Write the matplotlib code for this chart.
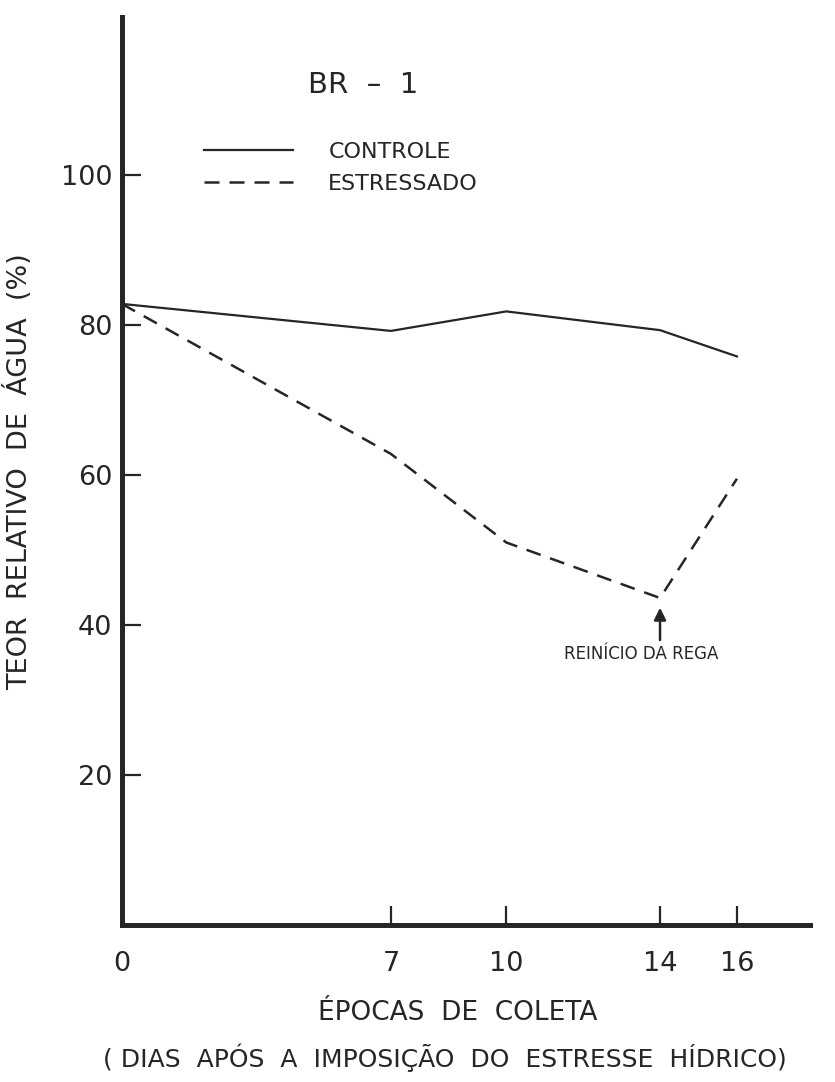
import matplotlib.pyplot as plt

# dias apos a imposicao do estresse hidrico
dias = [0, 7, 10, 14, 16]
controle = [82.8, 79.2, 81.8, 79.3, 75.8]
estressado = [82.8, 62.8, 51.0, 43.6, 59.5]
yticks = [20, 40, 60, 80, 100]
xticks = [0, 7, 10, 14, 16]

ink = '#262626'

fig = plt.figure(figsize=(8.35, 10.82), dpi=100)
ax = fig.add_axes([0.146, 0.145, 0.824, 0.839])

ax.plot(dias, controle, color=ink, lw=1.6, label='CONTROLE')
ax.plot(dias, estressado, color=ink, lw=1.8, linestyle=(0, (6, 4)), label='ESTRESSADO')

ax.set_xlim(0, 17.9)
ax.set_ylim(0, 121)
ax.set_xticks(xticks)
ax.set_yticks(yticks)
ax.tick_params(axis='both', direction='in', length=14, width=1.6, colors=ink,
               labelsize=19.5)
ax.tick_params(axis='y', pad=7)
ax.tick_params(axis='x', pad=19)

for side in ['top', 'right']:
    ax.spines[side].set_visible(False)
for side in ['left', 'bottom']:
    ax.spines[side].set_linewidth(3.6)
    ax.spines[side].set_color(ink)

ax.set_ylabel('TEOR  RELATIVO  DE  ÁGUA  (%)', fontsize=19.5, color=ink, labelpad=20)
fig.text(0.548, 0.064, 'ÉPOCAS  DE  COLETA', ha='center', va='center',
         fontsize=19, color=ink)
fig.text(0.533, 0.022, '( DIAS  APÓS  A  IMPOSIÇÃO  DO  ESTRESSE  HÍDRICO)',
         ha='center', va='center', fontsize=18, color=ink)

ax.text(0.35, 0.925, 'BR  –  1', transform=ax.transAxes, ha='center', va='center',
        fontsize=21, color=ink)

ax.legend(loc='upper left', bbox_to_anchor=(0.09, 0.885), frameon=False,
          fontsize=16, handlelength=4.0, handletextpad=1.6, labelspacing=0.55,
          labelcolor=ink)

# seta de reinicio da rega
ax.annotate('', xy=(14, 42.3), xytext=(14, 38.0),
            arrowprops=dict(arrowstyle='-|>', color=ink, lw=1.8, mutation_scale=18,
                            shrinkA=0, shrinkB=0))
ax.text(13.5, 36.1, 'REINÍCIO DA REGA', ha='center', va='center',
        fontsize=12, color=ink)

fig.savefig('out.png', dpi=100, facecolor='white')
